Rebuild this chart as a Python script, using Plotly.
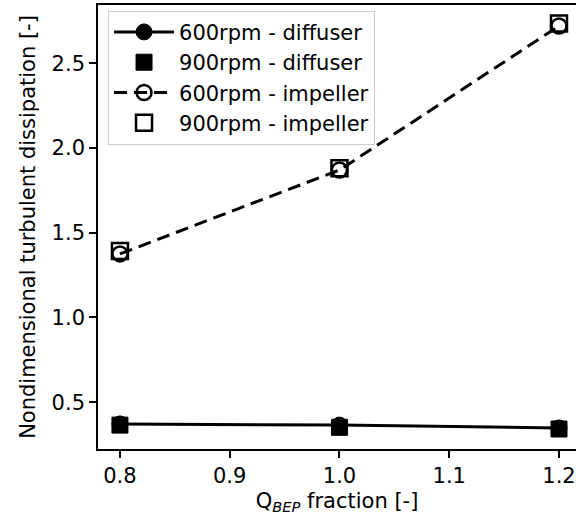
import plotly.graph_objects as go

q_bep = [0.8, 1.0, 1.2]
diff_600 = [0.372, 0.365, 0.348]
diff_900 = [0.365, 0.352, 0.342]
imp_600 = [1.375, 1.870, 2.720]
imp_900 = [1.392, 1.880, 2.735]

x_ticks = [0.8, 0.9, 1.0, 1.1, 1.2]
x_tick_labels = ["0.8", "0.9", "1.0", "1.1", "1.2"]
y_ticks = [0.5, 1.0, 1.5, 2.0, 2.5]
y_tick_labels = ["0.5", "1.0", "1.5", "2.0", "2.5"]

FONT = "DejaVu Sans"
FS = 21

fig = go.Figure()
fig.add_trace(go.Scatter(
    x=q_bep, y=diff_600, name="600rpm - diffuser", mode="lines+markers",
    line=dict(color="black", width=3),
    marker=dict(symbol="circle", size=16, color="black", line=dict(color="black", width=1)),
))
fig.add_trace(go.Scatter(
    x=q_bep, y=diff_900, name="900rpm - diffuser", mode="markers",
    marker=dict(symbol="square", size=16, color="black", line=dict(color="black", width=1)),
))
fig.add_trace(go.Scatter(
    x=q_bep, y=imp_600, name="600rpm - impeller", mode="lines+markers",
    line=dict(color="black", width=3, dash="13px,7px"),
    marker=dict(symbol="circle-open", size=15, color="black", line=dict(color="black", width=2.5)),
))
fig.add_trace(go.Scatter(
    x=q_bep, y=imp_900, name="900rpm - impeller", mode="markers",
    marker=dict(symbol="square-open", size=16, color="black", line=dict(color="black", width=2.5)),
))

fig.update_layout(
    width=576, height=521,
    margin=dict(l=98, r=0, t=5, b=72),
    paper_bgcolor="white", plot_bgcolor="white",
    font=dict(family=FONT, size=FS, color="black"),
    showlegend=True,
    legend=dict(
        x=0.021, y=0.987, xanchor="left", yanchor="top",
        bgcolor="rgba(255,255,255,0.8)", bordercolor="#cccccc", borderwidth=1,
        font=dict(family=FONT, size=FS, color="black"),
        itemwidth=60, tracegroupgap=0,
    ),
    xaxis=dict(
        range=[0.78, 1.2155], tickvals=x_ticks, ticktext=x_tick_labels,
        ticks="outside", ticklen=7, tickwidth=1.6, tickcolor="black",
        showline=True, linewidth=1.6, linecolor="black", mirror=True,
        showgrid=False, zeroline=False,
        title=dict(text="Q<sub><i>BEP</i></sub> fraction [-]", font=dict(family=FONT, size=FS), standoff=6),
        tickfont=dict(family=FONT, size=FS),
    ),
    yaxis=dict(
        range=[0.224, 2.8436], tickvals=y_ticks, ticktext=y_tick_labels,
        ticks="outside", ticklen=7, tickwidth=1.6, tickcolor="black",
        showline=True, linewidth=1.6, linecolor="black",
        showgrid=False, zeroline=False,
        title=dict(text="Nondimensional turbulent dissipation [-]", font=dict(family=FONT, size=FS), standoff=10),
        tickfont=dict(family=FONT, size=FS),
    ),
)

fig.write_html("out.html")
